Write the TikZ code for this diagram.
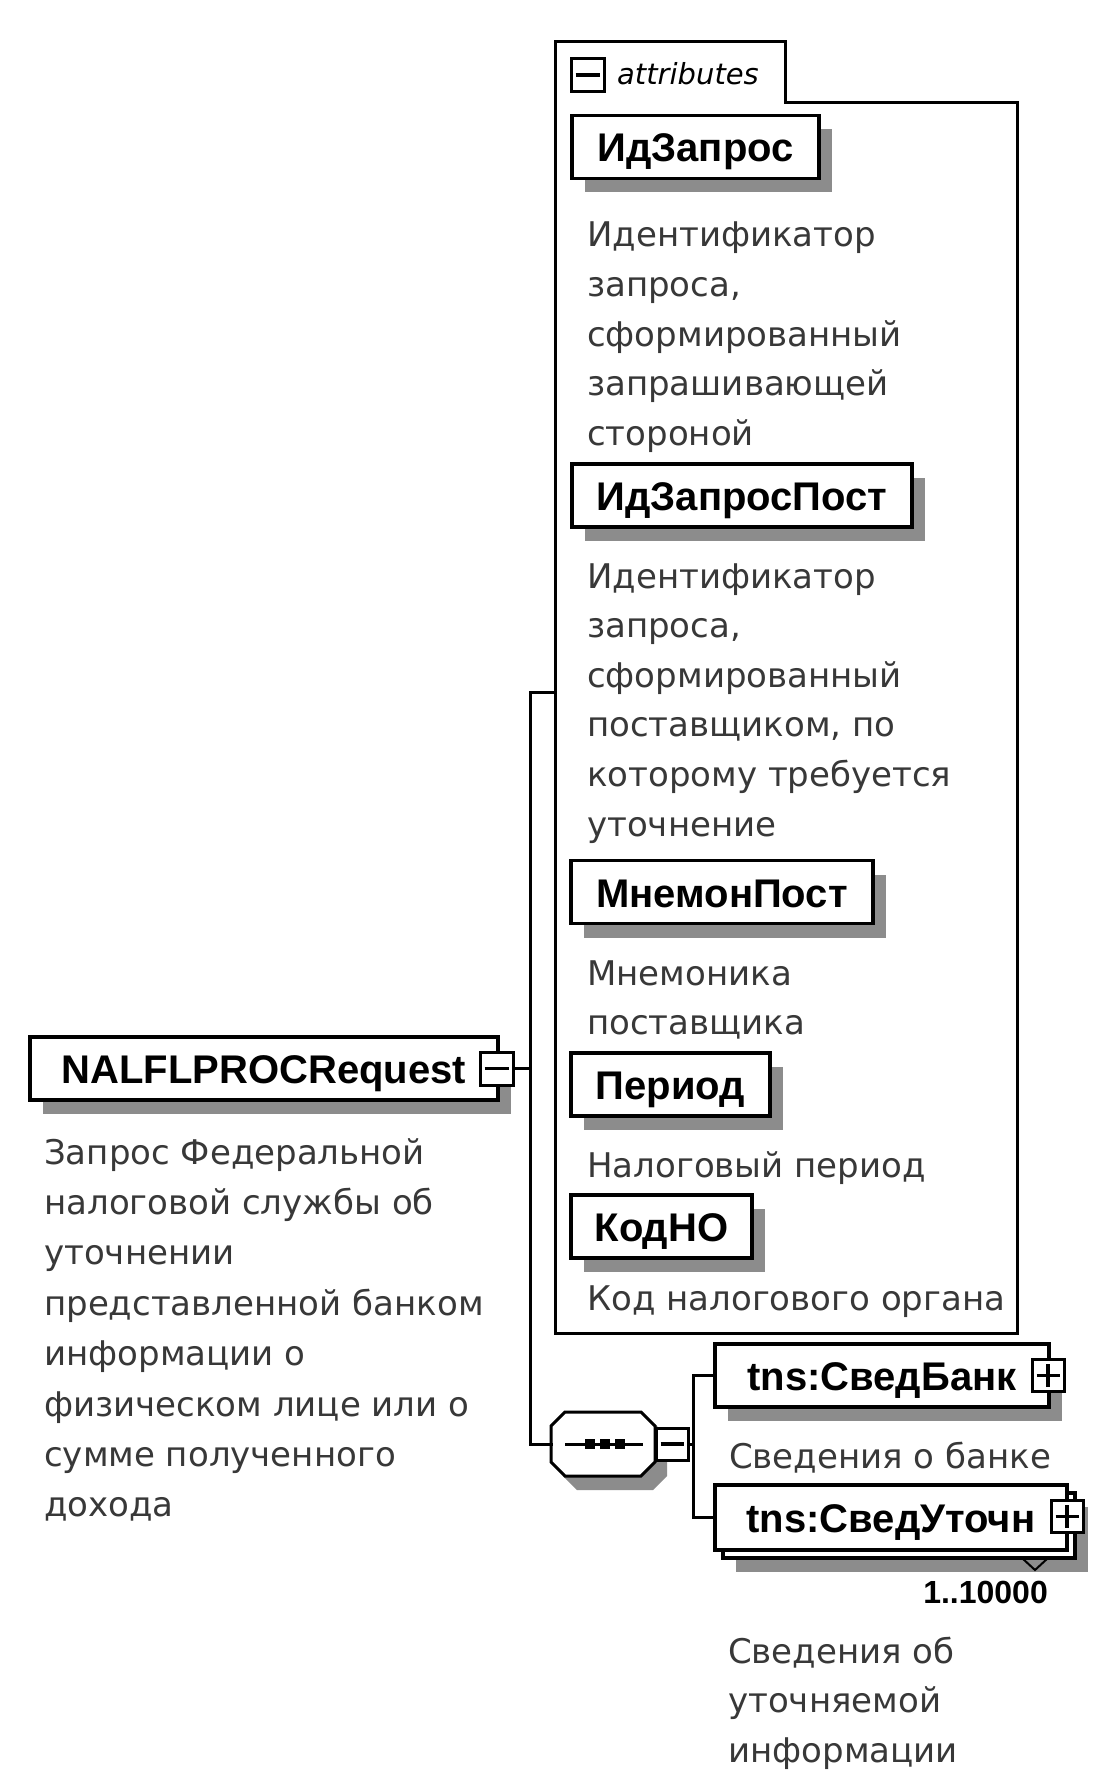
\documentclass[tikz,border=0pt]{standalone}
\usepackage{fontspec}
\setmainfont{DejaVu Sans}
\newfontfamily\namefont{Liberation Sans}
\usetikzlibrary{shadows}
\definecolor{shadowc}{gray}{0.55}
\definecolor{desccol}{gray}{0.22}
\tikzset{
  conn/.style={line width=3pt, line cap=rect},
  boxbase/.style={draw, line width=3.5pt, fill=white, inner sep=0pt,
    text height=30pt, text depth=0pt, minimum height=63pt,
    font=\namefont\bfseries\fontsize{40}{40}\selectfont},
  namebox/.style={boxbase, drop shadow={shadow xshift=13pt, shadow yshift=-14pt, opacity=1, fill=shadowc}},
  desc/.style={anchor=base west, inner sep=0pt, text=desccol, font=\fontsize{34}{34}\selectfont},
  pmbox/.style={draw, line width=3pt, fill=white, minimum size=32pt, inner sep=0pt},
  pmline/.style={line width=3.5pt},
}
\newcommand\minussign[1]{\draw[pmline] ([xshift=6pt]#1.west) -- ([xshift=-6pt]#1.east);}
\newcommand\plussign[1]{\draw[pmline] ([xshift=6pt]#1.west) -- ([xshift=-6pt]#1.east);
  \draw[pmline] ([yshift=-6pt]#1.north) -- ([yshift=6pt]#1.south);}
\begin{document}
\begin{tikzpicture}[x=1pt,y=-1pt]
\useasboundingbox[fill=white] (0,0) rectangle (1116,1784);

% attributes container
\draw[line width=3pt] (555,42) -- (785,42) -- (785,103) -- (1017,103) -- (1017,1333) -- (555,1333) -- cycle;
\node[pmbox, minimum size=33pt] (attrm) at (587.5,75) {};
\minussign{attrm}
\node[anchor=base west, inner sep=0pt, font=\itshape\fontsize{29}{29}\selectfont] (attrlbl) at (617,85) {attributes};
\coordinate (attrin) at (555,692);

% attribute boxes
\node[namebox, minimum width=247pt] (idz) at (695.5,147) {ИдЗапрос};
\foreach \t [count=\i from 0] in {Идентификатор, {запроса,}, сформированный, запрашивающей, стороной}
  \node[desc] (idzd\i) at (587,247+49.6*\i) {\t};

\node[namebox, minimum width=340pt] (idzp) at (742,495.5) {ИдЗапросПост};
\foreach \t [count=\i from 0] in {Идентификатор, {запроса,}, сформированный, {поставщиком, по}, которому требуется, уточнение}
  \node[desc] (idzpd\i) at (587,588+49.6*\i) {\t};

\node[namebox, minimum width=302pt] (mnem) at (722,892) {МнемонПост};
\foreach \t [count=\i from 0] in {Мнемоника, поставщика}
  \node[desc] (mnemd\i) at (587,985+49.6*\i) {\t};

\node[namebox, minimum width=199pt] (per) at (670.5,1084.5) {Период};
\node[desc] (perd) at (587,1177) {Налоговый период};

\node[namebox, minimum width=181pt] (kod) at (661.5,1226.5) {КодНО};
\node[desc] (kodd) at (587,1310) {Код налогового органа};

% root element
\node[namebox, minimum width=468pt] (root) at (264,1068.5) {NALFLPROCRequest};
\node[pmbox, minimum size=33pt] (rootm) at (496.5,1068.5) {};
\minussign{rootm}
\foreach \t [count=\i from 0] in {Запрос Федеральной, налоговой службы об, уточнении, представленной банком, информации о, физическом лице или о, сумме полученного, дохода}
  \node[desc] (rootd\i) at (44,1164+50.4*\i) {\t};

% sequence compositor
\coordinate (seqL) at (551,1444);
\fill[shadowc] (577,1424) -- (655,1424) -- (667,1436) -- (667,1476) -- (653,1490) -- (577,1490) -- (563,1476) -- cycle;
\draw[line width=3pt, fill=white] (565,1412) -- (641,1412) -- (655,1426) -- (655,1462) -- (641,1476) -- (565,1476) -- (551,1462) -- (551,1426) -- cycle;
\draw[line width=3pt] (565,1444) -- (643,1444);
\foreach \xx in {590,605,620} \fill (\xx-5,1439) rectangle (\xx+5,1449);
\node[pmbox] (seqm) at (672,1444) {};
\minussign{seqm}
\coordinate (seqjoin) at (693,1444);

% connectors
\coordinate (vtop) at (530,692);
\coordinate (vmid) at (530,1068.5);
\coordinate (vbot) at (530,1444);
\draw[conn] (rootm.east) -- (vmid);
\draw[conn] (attrin) -- (vtop) -- (vbot) -- (seqL);
\draw[conn] (seqm.east) -- (seqjoin);

% child elements
\node[namebox, minimum width=334pt] (bank) at (882,1375.5) {tns:СведБанк};
\node[pmbox] (bankp) at (1048,1375.5) {};
\plussign{bankp}
\node[desc] (bankd) at (729,1468) {Сведения о банке};

\node[namebox, minimum width=352pt, minimum height=65pt] (utochb) at (899,1525.5) {};
\draw[line width=2pt] (1022,1558) -- (1035,1570) -- (1048,1558);
\node[boxbase, minimum width=352pt, minimum height=65pt] (utoch) at (891,1517.5) {tns:СведУточн};
\node[pmbox] (utochp) at (1067,1516.5) {};
\plussign{utochp}
\node[anchor=base east, inner sep=0pt, font=\namefont\bfseries\fontsize{32}{32}\selectfont] (card) at (1048,1603) {1..10000};
\foreach \t [count=\i from 0] in {Сведения об, уточняемой, информации}
  \node[desc] (utochd\i) at (728,1663+49.6*\i) {\t};

\coordinate (bj1) at (693,1375.5);
\coordinate (bj2) at (693,1517.5);
\draw[conn] (bank.west) -- (bj1) -- (bj2) -- (utoch.west);
\end{tikzpicture}
\end{document}
